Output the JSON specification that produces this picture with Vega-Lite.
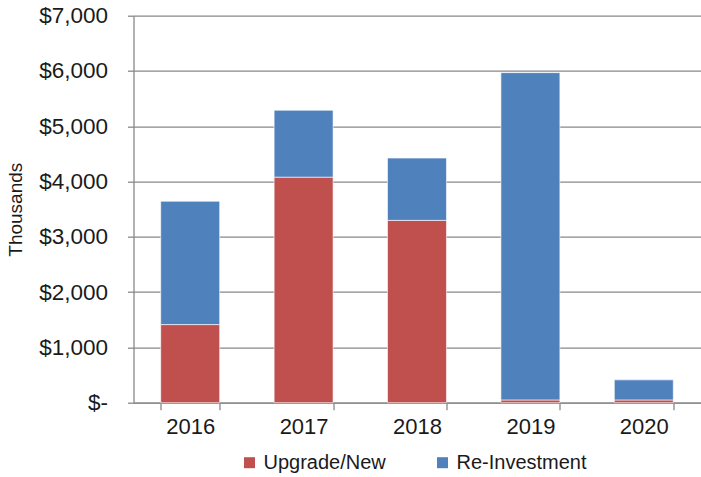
{
  "$schema": "https://vega.github.io/schema/vega-lite/v6.json",
  "width": 567,
  "height": 387,
  "autosize": {"type": "none"},
  "padding": {"left": 133.5, "top": 15.7, "right": 0, "bottom": 74.3},
  "background": "white",
  "config": {
    "font": "Liberation Sans",
    "view": {"stroke": null},
    "axis": {"labelColor": "#1a1a1a", "titleColor": "#1a1a1a", "labelFont": "Liberation Sans", "titleFont": "Liberation Sans"}
  },
  "data": {
    "values": [
      {"year": "2016", "series": "Upgrade/New", "value": 1413},
      {"year": "2016", "series": "Re-Investment", "value": 2231},
      {"year": "2017", "series": "Upgrade/New", "value": 4080},
      {"year": "2017", "series": "Re-Investment", "value": 1210},
      {"year": "2018", "series": "Upgrade/New", "value": 3298},
      {"year": "2018", "series": "Re-Investment", "value": 1127},
      {"year": "2019", "series": "Upgrade/New", "value": 50},
      {"year": "2019", "series": "Re-Investment", "value": 5920},
      {"year": "2020", "series": "Upgrade/New", "value": 50},
      {"year": "2020", "series": "Re-Investment", "value": 363}
    ]
  },
  "mark": {"type": "bar", "stroke": "white", "strokeOpacity": 0.6, "strokeWidth": 1},
  "encoding": {
    "x": {
      "field": "year",
      "type": "ordinal",
      "scale": {"paddingInner": 0.48, "paddingOuter": 0.24},
      "axis": {
        "title": null,
        "labelAngle": 0,
        "labelFontSize": 22,
        "labelPadding": 7,
        "domainColor": "#888888",
        "domainWidth": 1.3,
        "tickColor": "#888888",
        "tickWidth": 1.3,
        "tickSize": 7,
        "tickBand": "extent",
        "grid": false
      }
    },
    "y": {
      "field": "value",
      "type": "quantitative",
      "stack": "zero",
      "scale": {"domain": [0, 7000], "nice": false},
      "axis": {
        "title": "Thousands",
        "titleFontSize": 19,
        "titleFontWeight": "normal",
        "titlePadding": 13,
        "values": [0, 1000, 2000, 3000, 4000, 5000, 6000, 7000],
        "labelExpr": "datum.value == 0 ? '$-\u2002' : '$' + format(datum.value, ',')",
        "labelFontSize": 22.5,
        "labelPadding": 20,
        "tickSize": 6,
        "tickColor": "#888888",
        "tickWidth": 1.3,
        "domainColor": "#888888",
        "domainWidth": 1.3,
        "gridColor": "#888888",
        "gridWidth": 1.3
      }
    },
    "color": {
      "field": "series",
      "type": "nominal",
      "sort": ["Upgrade/New", "Re-Investment"],
      "scale": {"domain": ["Upgrade/New", "Re-Investment"], "range": ["#C0504D", "#4F81BD"]},
      "legend": {
        "title": null,
        "orient": "none",
        "direction": "horizontal",
        "legendX": 106,
        "legendY": 437,
        "symbolType": "square",
        "symbolSize": 121,
        "symbolStrokeWidth": 0,
        "labelFontSize": 20,
        "labelOffset": 4,
        "columnPadding": 46,
        "labelColor": "#1a1a1a"
      }
    }
  }
}
